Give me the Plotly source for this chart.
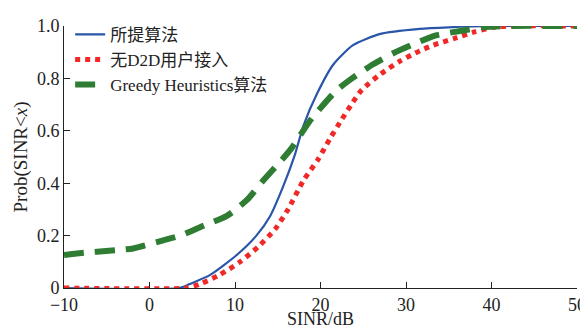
import plotly.graph_objects as go

# ---- data ----
prop_x = [-10, 3.5, 4.7, 7.1, 10.2, 12.5, 14.1, 15.6, 17.0, 18.0, 19.6, 21.5, 23.8, 27, 31.6, 35, 40, 50]
prop_y = [0, 0, 0.015, 0.05, 0.126, 0.2, 0.274, 0.385, 0.508, 0.619, 0.742, 0.853, 0.927, 0.97, 0.989, 0.995, 1, 1]

nod2d_x = [-10, 4.3, 5.9, 8.2, 10.6, 12.7, 14.7, 16.2, 18.0, 19.7, 21.1, 22.5, 23.6, 24.8, 27, 29.3, 31.6, 33.2, 35.6, 37.9, 40.2, 42, 50]
nod2d_y = [0, 0, 0.015, 0.05, 0.10, 0.157, 0.225, 0.30, 0.41, 0.49, 0.57, 0.644, 0.70, 0.755, 0.816, 0.866, 0.905, 0.927, 0.952, 0.977, 0.995, 1, 1]

greedy_x = [-10, -8.5, -3.8, -1.9, 1.6, 3.6, 6.7, 9.0, 11.4, 13.3, 15.5, 16.6, 18.9, 21.9, 23.6, 26.1, 28.5, 31.2, 33.5, 36.7, 39, 42, 50]
greedy_y = [0.126, 0.132, 0.145, 0.151, 0.182, 0.2, 0.243, 0.274, 0.336, 0.41, 0.49, 0.533, 0.644, 0.755, 0.798, 0.853, 0.896, 0.935, 0.964, 0.983, 0.995, 1, 1]

names = ["所提算法", "无D2D用户接入", "Greedy Heuristics算法"]

x_ticks = [-10, 0, 10, 20, 30, 40, 50]
x_ticktext = ["\u221210", "0", "10", "20", "30", "40", "50"]
y_ticks = [0, 0.2, 0.4, 0.6, 0.8, 1.0]
y_ticktext = ["0", "0.2", "0.4", "0.6", "0.8", "1.0"]

FONT = "Liberation Serif, Times New Roman, Noto Sans CJK SC, serif"

fig = go.Figure()
fig.add_trace(go.Scatter(x=prop_x, y=prop_y, name=names[0], mode="lines",
                         line=dict(color="#2a55a8", width=2.2, shape="spline", smoothing=0.6)))
fig.add_trace(go.Scatter(x=nod2d_x, y=nod2d_y, name=names[1], mode="lines",
                         line=dict(color="#f02828", width=5, dash="5px,5px", shape="spline", smoothing=0.6)))
fig.add_trace(go.Scatter(x=greedy_x, y=greedy_y, name=names[2], mode="lines",
                         line=dict(color="#2e7d32", width=6, dash="20px,11px", shape="spline", smoothing=0.6)))

# page body has an 8px margin, so the figure is 580x321 and left/top margins are trimmed by 8
fig.update_layout(
    width=580, height=321,
    margin=dict(l=56, r=11, t=9, b=41),
    paper_bgcolor="white", plot_bgcolor="white",
    font=dict(family=FONT, size=18, color="#222"),
    showlegend=True,
    legend=dict(x=0.012, y=1.035, xanchor="left", yanchor="top",
                bgcolor="rgba(0,0,0,0)", font=dict(size=17, family=FONT),
                itemwidth=30, tracegroupgap=0),
    xaxis=dict(range=[-10, 50], tickvals=x_ticks, ticktext=x_ticktext,
               showgrid=False, zeroline=False, showline=True, linecolor="#222", linewidth=1,
               ticks="inside", ticklen=6, tickcolor="#222", ticklabeloverflow="allow",
               title=dict(text="SINR/dB", standoff=3, font=dict(size=18)),
               automargin=False, fixedrange=True),
    yaxis=dict(range=[0, 1], tickvals=y_ticks, ticktext=y_ticktext,
               showgrid=False, zeroline=False, showline=True, linecolor="#222", linewidth=1,
               ticks="inside", ticklen=6, tickcolor="#222", ticklabeloverflow="allow",
               title=dict(text="Prob(SINR&lt;<i>x</i>)", standoff=4, font=dict(size=19)),
               automargin=False, fixedrange=True),
)

fig.write_html("out.html")
